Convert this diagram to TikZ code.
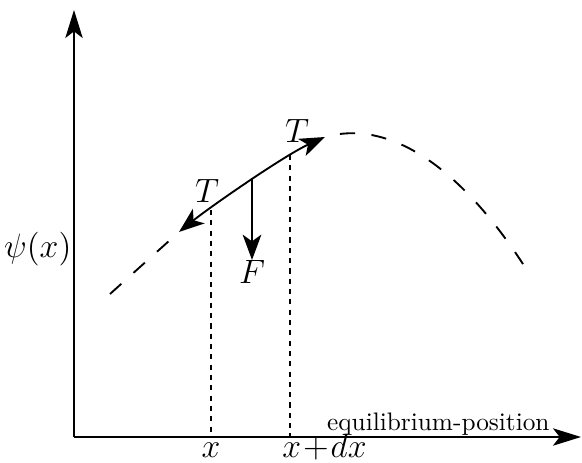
\documentclass[tikz,border=0pt]{standalone}
\usepackage{tikz}
\usetikzlibrary{arrows.meta, positioning}
\tikzset{
  axis/.style = {-{Stealth[length=4.2mm, width=2.6mm, inset=1mm]}, line width=0.9pt},
  force/.style = {-{Stealth[length=3.8mm, width=2.8mm, inset=1mm]}, line width=0.8pt},
  wave/.style = {line width=0.8pt, dash pattern=on 6.5pt off 7pt},
  guide/.style = {line width=0.6pt, dash pattern=on 2.2pt off 2.2pt},
  lbl/.style = {inner sep=1pt, font=\fontsize{14.5}{17}\selectfont},
  ticklbl/.style = {inner sep=0pt, font=\fontsize{14}{16}\selectfont}
}

\begin{document}
\begin{tikzpicture}[x=0.015cm, y=-0.015cm]
\useasboundingbox (0,0) rectangle (582,462);

% Axes
\coordinate (O) at (74,437);
\coordinate (ytop) at (74,10);
\coordinate (xend) at (581,437);
\draw[axis] (O) -- (ytop);
\draw[axis] (O) -- (xend);

\node[anchor=east, inner sep=0.5pt, font=\fontsize{13.4}{16}\selectfont] (psi) at (73,249) {$\psi(x)$};
\node[inner sep=0pt, anchor=base east, font=\fontsize{10.8}{13}\selectfont] (eqpos) at (550,430) {equilibrium-position};

% String
\coordinate (wl) at (110,294);
\coordinate (a) at (179,232);
\coordinate (m) at (252,178);
\coordinate (b) at (325,137);
\coordinate (wr) at (523,264);

\draw[wave] (wl) .. controls (130,276) and (160,249) .. (a);
\draw[wave, dash phase=7pt] (b) .. controls (385,120) and (455,160) .. (wr);
\draw[force, {Stealth[length=3.8mm, width=2.8mm, inset=1mm]}-{Stealth[length=3.8mm, width=2.8mm, inset=1mm]}]
  (a) .. controls (210,207) and (285,155) .. (b);

% Force and tensions
\coordinate (fend) at (252,260);
\draw[force] (m) -- (fend);
\node[lbl, below=-1pt of fend] (F) {$F$};
\node[lbl] (Tl) at (207,191) {$T$};
\node[lbl] (Tr) at (297,131) {$T$};

% Element boundaries
\coordinate (xa) at (211,210);
\coordinate (xb) at (290,155);
\draw[guide] (xa) -- (xa |- O);
\draw[guide] (xb) -- (xb |- O);
\node[ticklbl, anchor=base] (xlab) at (211,457) {$x$};
\node[ticklbl, anchor=base west] (xdxlab) at (282,457) {$x\!+\!dx$};

\end{tikzpicture}
\end{document}
